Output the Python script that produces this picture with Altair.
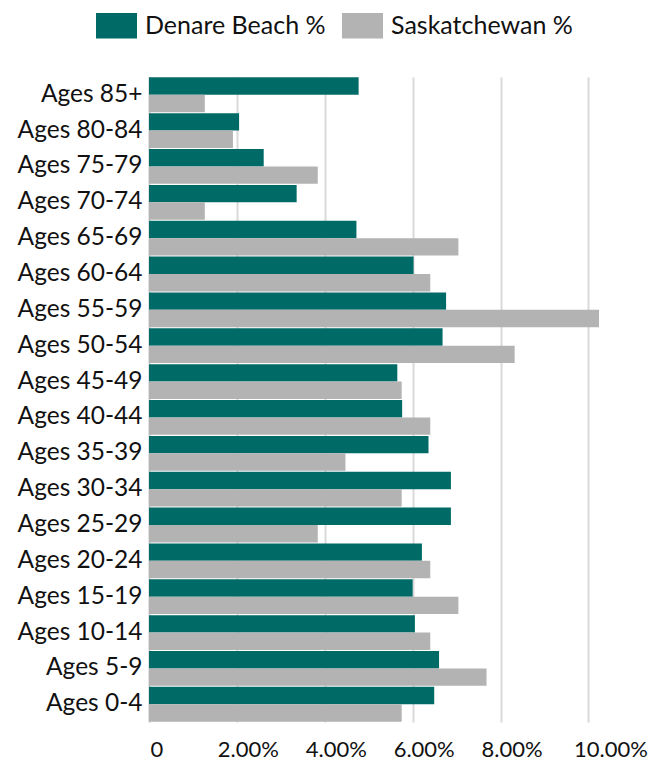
import altair as alt
import pandas as pd

ages = ["Ages 85+", "Ages 80-84", "Ages 75-79", "Ages 70-74", "Ages 65-69",
        "Ages 60-64", "Ages 55-59", "Ages 50-54", "Ages 45-49", "Ages 40-44",
        "Ages 35-39", "Ages 30-34", "Ages 25-29", "Ages 20-24", "Ages 15-19",
        "Ages 10-14", "Ages 5-9", "Ages 0-4"]
denare = [4.77, 2.05, 2.61, 3.36, 4.72, 6.02, 6.76, 6.68, 5.65, 5.76,
          6.36, 6.87, 6.87, 6.21, 6.00, 6.05, 6.60, 6.49]
sask = [1.27, 1.91, 3.84, 1.27, 7.04, 6.40, 10.24, 8.32, 5.75, 6.40,
        4.47, 5.75, 3.84, 6.40, 7.04, 6.40, 7.68, 5.75]
series = ["Denare Beach %", "Saskatchewan %"]
colors = ["#006B66", "#B3B3B3"]
ticks = [0, 2, 4, 6, 8, 10]

rows = []
for a, d, s in zip(ages, denare, sask):
    rows.append({"age": a, "series": series[0], "value": d})
    rows.append({"age": a, "series": series[1], "value": s})
df = pd.DataFrame(rows)

FONT = "Lato"

chart = alt.Chart(df).mark_bar().encode(
    x=alt.X("value:Q",
            scale=alt.Scale(domain=[0, 11.4], nice=False),
            axis=alt.Axis(values=ticks, title=None, domain=False, ticks=False,
                          grid=True, gridColor="#D9D9D9", gridWidth=2,
                          labelPadding=17, labelFontSize=22, labelFont=FONT,
                          labelColor="#111111",
                          labelOffset={"condition": [
                              {"test": "datum.value == 0", "value": 1},
                              {"test": "datum.value == 10", "value": 22}],
                              "value": 11},
                          labelExpr="datum.value == 0 ? '0' : format(datum.value/100, '.2%')")),
    y=alt.Y("age:N", sort=ages,
            scale=alt.Scale(paddingInner=0.03, paddingOuter=0.01),
            axis=alt.Axis(title=None, ticks=False, domain=True, domainColor="#D9D9D9",
                          domainWidth=2, labelPadding=7, labelFontSize=24.5,
                          labelFont=FONT, labelColor="#111111", labelLimit=200)),
    yOffset=alt.YOffset("series:N", sort=series),
    color=alt.Color("series:N", sort=series,
                    scale=alt.Scale(domain=series, range=colors),
                    legend=alt.Legend(title=None, orient="none", legendX=-53, legendY=-72,
                                      direction="horizontal",
                                      symbolType="M-1,-0.62H1V0.62H-1Z", symbolSize=1681,
                                      symbolStrokeWidth=0, labelFontSize=25, labelFont=FONT,
                                      labelColor="#111111", labelOffset=8, labelLimit=400,
                                      columnPadding=16)),
).properties(
    width=501, height=645,
    autosize=alt.AutoSizeParams(type="none"),
    padding={"left": 141, "top": 69, "right": 3, "bottom": 40},
).configure_view(stroke=None)

chart.save("out.html", embed_options={"renderer": "svg", "actions": False})
